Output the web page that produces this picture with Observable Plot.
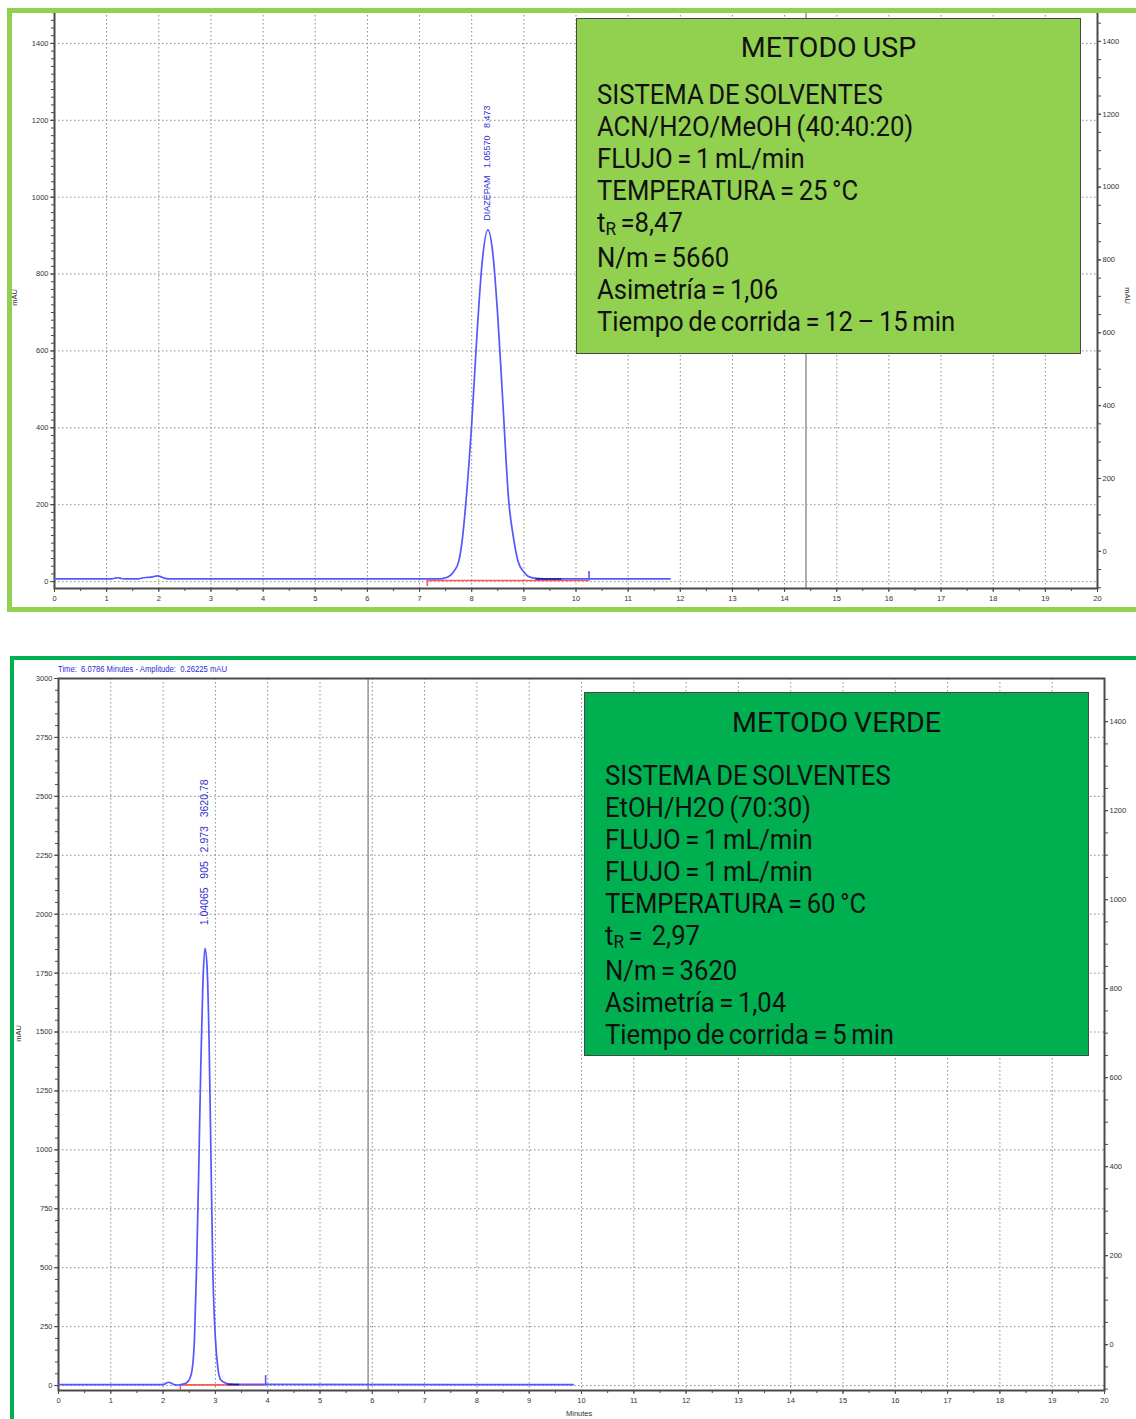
<!DOCTYPE html>
<html><head><meta charset="utf-8">
<script src="https://cdn.jsdelivr.net/npm/d3@7"></script>
<script src="https://cdn.jsdelivr.net/npm/@observablehq/plot@0.6"></script>
<style>
html,body{margin:0;padding:0;background:#fff}
body{width:1136px;height:1419px;position:relative;overflow:hidden;font-family:"Liberation Sans",Arial,sans-serif}
.chart{position:absolute;left:0}
.frame{position:absolute;box-sizing:border-box;pointer-events:none}
.box{position:absolute;box-sizing:border-box;border:1.5px solid #474747;font-family:Roboto,"DejaVu Sans",sans-serif;font-size:28.5px;color:#111;line-height:32px;padding-left:20px;word-spacing:-2px}
.box > div{white-space:nowrap}
.box span{display:inline-block;transform:scaleX(0.9);transform-origin:0 50%}
.box .title{text-align:center;padding-right:20px;word-spacing:-1px}
.box .title span{transform:none}
.box sub{font-size:19px;vertical-align:baseline;position:relative;top:3px}
.small{position:absolute;font-family:"Liberation Sans",Arial,sans-serif;font-size:7.5px;color:#333;white-space:nowrap}
.hdr{position:absolute;font-family:"Liberation Sans",Arial,sans-serif;font-size:8.5px;color:#2a2ad8;white-space:nowrap;transform:scaleX(0.9);transform-origin:0 50%}
</style></head>
<body>
<div id="top" class="chart" style="top:0"></div>
<div id="bot" class="chart" style="top:656px"></div>

<div class="frame" style="left:7px;top:8px;width:1145px;height:604px;border:5px solid #92d050"></div>
<div class="frame" style="left:10px;top:656px;width:1145px;height:800px;border:4px solid #00b050"></div>

<div class="box" style="left:576px;top:18px;width:505px;height:336px;background:#92d050">
  <div class="title" style="margin-top:13px"><span>METODO USP</span></div>
  <div style="margin-top:15px"><span>SISTEMA DE SOLVENTES</span></div>
  <div><span>ACN/H2O/MeOH (40:40:20)</span></div>
  <div><span>FLUJO = 1 mL/min</span></div>
  <div><span>TEMPERATURA = 25 °C</span></div>
  <div><span>t<sub>R</sub> =8,47</span></div>
  <div><span>N/m = 5660</span></div>
  <div><span>Asimetría = 1,06</span></div>
  <div><span>Tiempo de corrida = 12 – 15 min</span></div>
</div>
<div class="box" style="left:584px;top:692px;width:505px;height:364px;background:#00b050">
  <div class="title" style="margin-top:14px"><span>METODO VERDE</span></div>
  <div style="margin-top:21px"><span>SISTEMA DE SOLVENTES</span></div>
  <div><span>EtOH/H2O (70:30)</span></div>
  <div><span>FLUJO = 1 mL/min</span></div>
  <div><span>FLUJO = 1 mL/min</span></div>
  <div><span>TEMPERATURA = 60 °C</span></div>
  <div><span>t<sub>R</sub> =&nbsp; 2,97</span></div>
  <div><span>N/m = 3620</span></div>
  <div><span>Asimetría = 1,04</span></div>
  <div><span>Tiempo de corrida = 5 min</span></div>
</div>

<div class="hdr" style="left:58px;top:664px">Time:&nbsp; 6.0786 Minutes - Amplitude:&nbsp; 0.26225 mAU</div>
<div class="small" style="left:6px;top:293px;transform:rotate(-90deg)">mAU</div>
<div class="small" style="left:10px;top:1029px;transform:rotate(-90deg)">mAU</div>
<div class="small" style="left:1119px;top:291px;transform:rotate(90deg)">mAU</div>
<div class="small" style="left:566px;top:1409px">Minutes</div>

<script>
// ---------------- DATA ----------------
// Top chromatogram: METODO USP (time in min, absorbance in mAU)
const uspTime = [0, 1.10, 1.16, 1.22, 1.28, 1.35, 1.60, 1.70, 1.80, 1.90, 1.97, 2.03, 2.10, 2.18, 7.40, 7.50, 7.56, 7.65, 7.75, 7.82, 7.89, 8.00, 8.10, 8.20, 8.31, 8.40, 8.50, 8.60, 8.71, 8.80, 8.89, 9.00, 9.08, 9.20, 9.40, 11.80];
const uspAbs  = [7, 7, 9, 10, 8, 7, 7, 10, 11, 13, 15, 13, 9, 7, 7, 10, 13, 25, 52, 110, 208, 410, 640, 830, 915, 860, 690, 460, 210, 115, 52, 25, 14, 9, 7, 7];
const uspIntegration = [7.15, 10.25];   // baseline start / end (min)
const uspLevels = [3, -13, 26];          // baseline level, start-tick bottom, end-tick top (mAU)
const uspEndSegment = [9.23, 9.71];
const uspCursor = [14.41];
const uspPeak = {t: 8.31, v: 915, label: "DIAZEPAM   1.05570   8.473"};
const uspLeftTicks = [0, 200, 400, 600, 800, 1000, 1200, 1400];
const uspRightTicks = [0, 200, 400, 600, 800, 1000, 1200, 1400];
const uspYDomain = [-18, 1483];
const uspRightDomain = [-102, 1482];

// Bottom chromatogram: METODO VERDE
const verdeTime = [0, 2.00, 2.05, 2.10, 2.15, 2.20, 2.26, 2.33, 2.40, 2.45, 2.50, 2.55, 2.60, 2.64, 2.68, 2.72, 2.76, 2.80, 2.84, 2.88, 2.92, 2.95, 3.00, 3.05, 3.10, 3.20, 3.30, 3.42, 9.84];
const verdeAbs  = [4, 4, 9, 14, 11, 5, 2, 4, 7, 12, 25, 60, 200, 500, 900, 1350, 1700, 1855, 1780, 1450, 900, 500, 200, 70, 25, 10, 6, 5, 4];
const verdeIntegration = [2.33, 3.96];
const verdeLevels = [3, -21, 42];
const verdeEndSegment = [3.24, 3.44];
const verdeCursor = [5.92];
const verdePeak = {t: 2.81, v: 1855, label: "1.04065   905   2.973   3620.78"};
const verdeLeftTicks = [0, 250, 500, 750, 1000, 1250, 1500, 1750, 2000, 2250, 2500, 2750, 3000];
const verdeRightTicks = [0, 200, 400, 600, 800, 1000, 1200, 1400];
const verdeYDomain = [-21, 3000];
const verdeRightDomain = [-103, 1497];

const minuteTicks = d3.range(0, 21);

// ---------------- DRAW ----------------
const BLUE = "#5656ff", RED = "#ff5a5a", NAVY = "#1a1a8a", GRID = "#8a8a8a", AXIS = "#4a4a4a", LABEL = "#3030d0";

function chromatogram(cfg) {
  const pts = cfg.time.map((t, i) => ({t, v: cfg.abs[i]}));
  const toLeft = d3.scaleLinear().domain(cfg.rightDomain).range(cfg.yDomain);
  const lMinor = d3.range(cfg.leftTicks[0], cfg.yDomain[1], cfg.leftMinorStep);
  const rMinor = d3.range(cfg.rightTicks[0] - 100, cfg.rightDomain[1], 50).filter(r => r >= cfg.rightDomain[0]);
  const [bl, tickLow, tickHigh] = cfg.levels;
  const [s, e] = cfg.integration;
  const lastV = pts[pts.length - 1].v;
  return Plot.plot({
    width: 1136, height: cfg.height,
    marginLeft: cfg.ml, marginRight: cfg.mr, marginTop: cfg.mt, marginBottom: cfg.mb,
    style: {fontFamily: "Liberation Sans, Arial, sans-serif", fontSize: "7.5px", color: "#333", background: "transparent"},
    x: {domain: [0, 20], axis: null, label: null},
    y: {domain: cfg.yDomain, axis: null, label: null},
    marks: [
      Plot.gridX(minuteTicks.slice(1, -1), {stroke: GRID, strokeOpacity: 1, strokeDasharray: "1.5,2.5"}),
      Plot.gridY(cfg.leftTicks, {stroke: GRID, strokeOpacity: 1, strokeDasharray: "1.5,2.5"}),
      Plot.ruleX(cfg.cursor, {stroke: "#9a9a9a", strokeWidth: 1.6}),
      // x axis
      Plot.axisX(d3.range(0, 20.01, 0.5), {tickSize: 3, tickFormat: () => "", stroke: AXIS, label: null}),
      Plot.axisX(minuteTicks, {tickSize: 4, tickPadding: 3, stroke: AXIS, fill: "#333", tickFormat: d3.format("d"), label: null}),
      // left axis
      Plot.axisY(lMinor, {anchor: "left", tickSize: 3, tickFormat: () => "", stroke: AXIS, label: null}),
      Plot.axisY(cfg.leftTicks, {anchor: "left", tickSize: 4, tickPadding: 2, stroke: AXIS, fill: "#333", tickFormat: d3.format("d"), label: null}),
      // right axis (secondary scale)
      Plot.axisY(rMinor.map(toLeft), {anchor: "right", tickSize: 3, tickFormat: () => "", stroke: AXIS, label: null}),
      Plot.axisY(cfg.rightTicks.map(toLeft), {anchor: "right", tickSize: 3, tickPadding: 2, stroke: AXIS, fill: "#333", tickFormat: (d, i) => String(cfg.rightTicks[i]), label: null}),
      Plot.frame({stroke: AXIS, strokeWidth: 2}),
      // integration baseline (red) and markers
      Plot.line([{t: s, v: bl}, {t: e, v: bl}], {x: "t", y: "v", stroke: RED, strokeWidth: 1.6}),
      Plot.ruleX([s], {y1: bl, y2: tickLow, stroke: RED, strokeWidth: 1.6}),
      // chromatogram trace
      Plot.line(pts, {x: "t", y: "v", stroke: BLUE, strokeWidth: 1.7, curve: "monotone-x"}),
      Plot.line(cfg.endSegment.map(t => ({t, v: lastV})), {x: "t", y: "v", stroke: NAVY, strokeWidth: 1.5}),
      Plot.ruleX([e], {y1: lastV, y2: tickHigh, stroke: BLUE, strokeWidth: 1.6}),
      // peak annotation
      Plot.text([cfg.peak], {x: "t", y: "v", text: "label", rotate: -90, textAnchor: "start", dy: -cfg.labelGap, dx: -1,
        fill: LABEL, fontSize: cfg.labelSize, fontFamily: "Liberation Sans, Arial, sans-serif"})
    ]
  });
}

document.getElementById("top").appendChild(chromatogram({
  time: uspTime, abs: uspAbs, integration: uspIntegration, levels: uspLevels, endSegment: uspEndSegment,
  cursor: uspCursor, peak: uspPeak, leftTicks: uspLeftTicks, rightTicks: uspRightTicks,
  yDomain: uspYDomain, rightDomain: uspRightDomain, leftMinorStep: 20, labelGap: 9, labelSize: 9,
  height: 612, ml: 54, mr: 39, mt: 11, mb: 24
}));

document.getElementById("bot").appendChild(chromatogram({
  time: verdeTime, abs: verdeAbs, integration: verdeIntegration, levels: verdeLevels, endSegment: verdeEndSegment,
  cursor: verdeCursor, peak: verdePeak, leftTicks: verdeLeftTicks, rightTicks: verdeRightTicks,
  yDomain: verdeYDomain, rightDomain: verdeRightDomain, leftMinorStep: 50, labelGap: 23, labelSize: 10.5,
  height: 763, ml: 58, mr: 32, mt: 22, mb: 29
}));
</script>
</body></html>
